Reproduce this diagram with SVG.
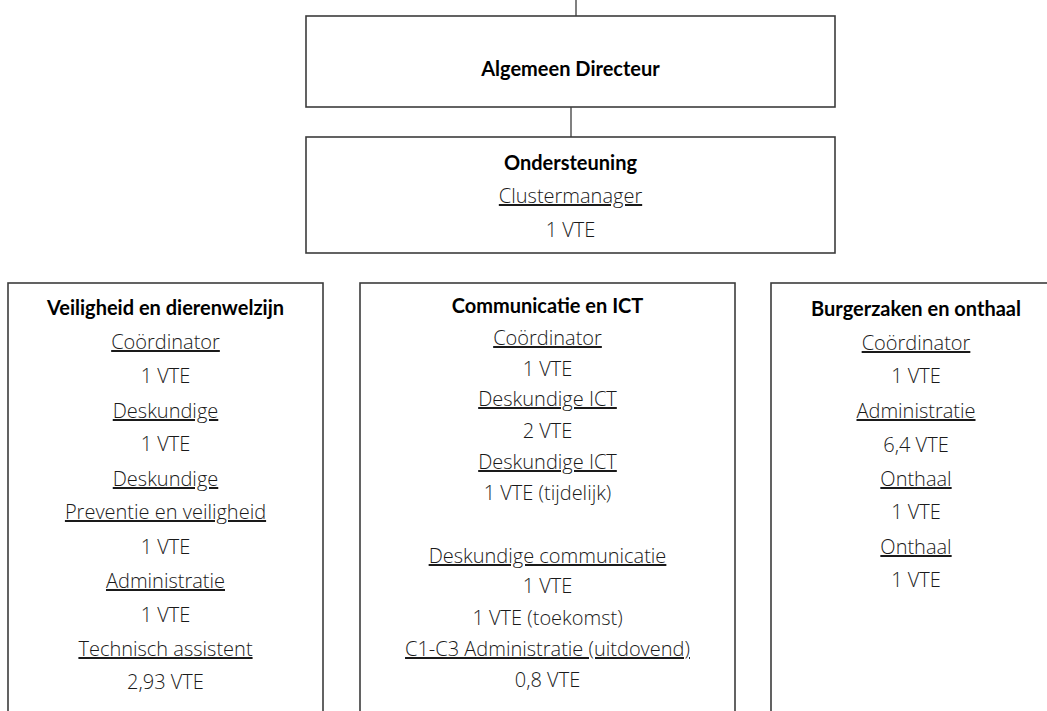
<svg xmlns="http://www.w3.org/2000/svg" width="1047" height="711" viewBox="0 0 1047 711">
<style>
.box{fill:#fff;stroke:#3c3c3c;stroke-width:1.6}
.ln{stroke:#3c3c3c;stroke-width:1.3;fill:none}
text{font-family:"Open Sans",Lato,"Liberation Sans",sans-serif;font-size:20px;font-weight:300;fill:#1a1a1a;text-anchor:middle}
.h{font-family:Lato,"Open Sans","Liberation Sans",sans-serif;font-size:20px;font-weight:bold;fill:#000}
.u{text-decoration:underline}
</style>
<rect width="1047" height="711" fill="#fff"/>
<g id="connectors">
<line class="ln" x1="576" y1="0" x2="576" y2="16"/>
<line class="ln" x1="571" y1="107" x2="571" y2="137"/>
</g>
<g id="algemeen-directeur">
<rect class="box" x="306" y="16" width="529" height="91"/>
<text class="h" x="570.5" y="76">Algemeen Directeur</text>
</g>
<g id="ondersteuning">
<rect class="box" x="306" y="137" width="529" height="116"/>
<text class="h" x="570.5" y="170">Ondersteuning</text>
<text class="u" x="570.5" y="203">Clustermanager</text>
<text x="570.5" y="237">1 VTE</text>
</g>
<g id="veiligheid">
<rect class="box" x="8" y="283" width="315" height="440"/>
<text class="h" x="165.5" y="315">Veiligheid en dierenwelzijn</text>
<text class="u" x="165.5" y="349">Coördinator</text>
<text x="165.5" y="383">1 VTE</text>
<text class="u" x="165.5" y="418">Deskundige</text>
<text x="165.5" y="451">1 VTE</text>
<text class="u" x="165.5" y="486">Deskundige</text>
<text class="u" x="165.5" y="519">Preventie en veiligheid</text>
<text x="165.5" y="554">1 VTE</text>
<text class="u" x="165.5" y="588">Administratie</text>
<text x="165.5" y="622">1 VTE</text>
<text class="u" x="165.5" y="656">Technisch assistent</text>
<text x="165.5" y="689">2,93 VTE</text>
</g>
<g id="communicatie">
<rect class="box" x="360" y="283" width="375" height="440"/>
<text class="h" x="547.5" y="313">Communicatie en ICT</text>
<text class="u" x="547.5" y="345">Coördinator</text>
<text x="547.5" y="376">1 VTE</text>
<text class="u" x="547.5" y="406">Deskundige ICT</text>
<text x="547.5" y="438">2 VTE</text>
<text class="u" x="547.5" y="469">Deskundige ICT</text>
<text x="547.5" y="500">1 VTE (tijdelijk)</text>
<text class="u" x="547.5" y="563">Deskundige communicatie</text>
<text x="547.5" y="593">1 VTE</text>
<text x="547.5" y="625">1 VTE (toekomst)</text>
<text class="u" x="547.5" y="656">C1-C3 Administratie (uitdovend)</text>
<text x="547.5" y="687">0,8 VTE</text>
</g>
<g id="burgerzaken">
<rect class="box" x="771" y="283" width="290" height="440"/>
<text class="h" x="916" y="316">Burgerzaken en onthaal</text>
<text class="u" x="916" y="350">Coördinator</text>
<text x="916" y="383">1 VTE</text>
<text class="u" x="916" y="418">Administratie</text>
<text x="916" y="452">6,4 VTE</text>
<text class="u" x="916" y="486">Onthaal</text>
<text x="916" y="519">1 VTE</text>
<text class="u" x="916" y="554">Onthaal</text>
<text x="916" y="587">1 VTE</text>
</g>
</svg>
